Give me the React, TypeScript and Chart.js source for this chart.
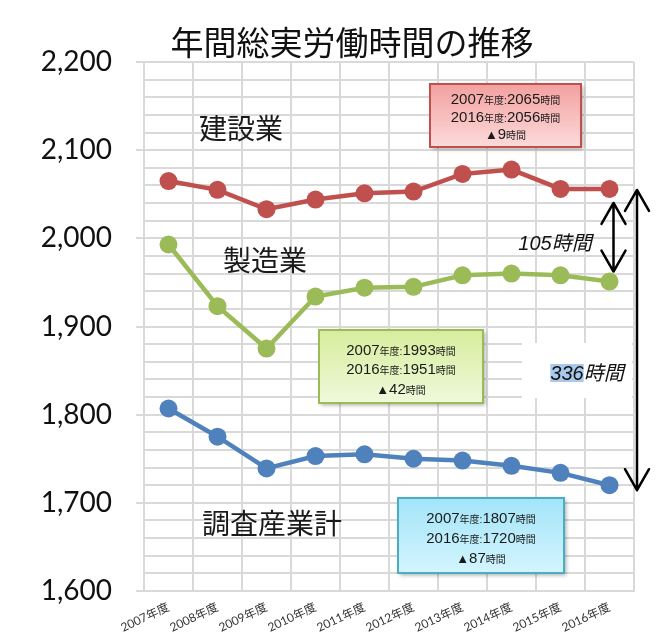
import React, { useEffect, useRef } from "react";
import { Chart, registerables } from "chart.js";

Chart.register(...registerables);

const chartTitle = "年間総実労働時間の推移";
const fiscalYears = ["2007年度", "2008年度", "2009年度", "2010年度", "2011年度", "2012年度", "2013年度", "2014年度", "2015年度", "2016年度"];
const seriesNames = ["建設業", "製造業", "調査産業計"];
const construction = [2065, 2055, 2033, 2044, 2051, 2053, 2073, 2078, 2056, 2056];
const manufacturing = [1993, 1923, 1875, 1934, 1944, 1945, 1958, 1960, 1958, 1951];
const allIndustries = [1807, 1775, 1739, 1753, 1755, 1750, 1748, 1742, 1734, 1720];
const yMin = 1600;
const yMax = 2200;
const yMinorStep = 20;
const yMajorStep = 100;
const hoursUnit = "時間";
const yearUnit = "年度";

const seriesColors = ["#C0504D", "#9BBB59", "#4F81BD"];

const NUM_FONT = '"Liberation Sans", "Noto Sans CJK JP", sans-serif';
const JP_FONT = '"Noto Sans CJK JP", sans-serif';

type Seg = { t: string; s: number };

function drawRich(ctx: CanvasRenderingContext2D, cx: number, baseY: number, segs: Seg[], color: string) {
  let total = 0;
  const widths = segs.map((g) => {
    ctx.font = `${g.s}px ${NUM_FONT}`;
    const w = ctx.measureText(g.t).width;
    total += w;
    return w;
  });
  let x = cx - total / 2;
  ctx.fillStyle = color;
  ctx.textAlign = "left";
  ctx.textBaseline = "alphabetic";
  segs.forEach((g, i) => {
    ctx.font = `${g.s}px ${NUM_FONT}`;
    ctx.fillText(g.t, x, baseY);
    x += widths[i];
  });
}

function drawBox(
  ctx: CanvasRenderingContext2D,
  x: number, y: number, w: number, h: number,
  top: string, bottom: string, border: string,
  values: number[], big: number, small: number, baselines: number[]
) {
  ctx.save();
  const g = ctx.createLinearGradient(0, y, 0, y + h);
  g.addColorStop(0, top);
  g.addColorStop(1, bottom);
  ctx.shadowColor = "rgba(0,0,0,0.35)";
  ctx.shadowBlur = 4;
  ctx.shadowOffsetX = 2;
  ctx.shadowOffsetY = 2;
  ctx.fillStyle = g;
  ctx.fillRect(x, y, w, h);
  ctx.shadowColor = "transparent";
  ctx.strokeStyle = border;
  ctx.lineWidth = 2;
  ctx.strokeRect(x, y, w, h);
  const cx = x + w / 2;
  const first = values[0];
  const last = values[values.length - 1];
  const y0 = fiscalYears[0].replace(yearUnit, "");
  const y1 = fiscalYears[fiscalYears.length - 1].replace(yearUnit, "");
  drawRich(ctx, cx, baselines[0], [
    { t: y0, s: big }, { t: yearUnit + ":", s: small }, { t: String(first), s: big }, { t: hoursUnit, s: small },
  ], "#1a1a1a");
  drawRich(ctx, cx, baselines[1], [
    { t: y1, s: big }, { t: yearUnit + ":", s: small }, { t: String(last), s: big }, { t: hoursUnit, s: small },
  ], "#1a1a1a");
  drawRich(ctx, cx, baselines[2], [
    { t: "▲", s: small + 3 }, { t: String(first - last), s: big }, { t: hoursUnit, s: small },
  ], "#1a1a1a");
  ctx.restore();
}

function drawDoubleArrow(ctx: CanvasRenderingContext2D, x: number, yTop: number, yBot: number) {
  ctx.save();
  ctx.strokeStyle = "#000";
  ctx.lineWidth = 2.5;
  ctx.lineCap = "round";
  ctx.lineJoin = "round";
  ctx.beginPath();
  ctx.moveTo(x, yTop);
  ctx.lineTo(x, yBot);
  ctx.moveTo(x - 12, yTop + 21);
  ctx.lineTo(x, yTop);
  ctx.lineTo(x + 12, yTop + 21);
  ctx.moveTo(x - 12, yBot - 21);
  ctx.lineTo(x, yBot);
  ctx.lineTo(x + 12, yBot - 21);
  ctx.stroke();
  ctx.restore();
}

const backPlugin = {
  id: "backPlugin",
  beforeDatasetsDraw(chart: any) {
    const ctx = chart.ctx as CanvasRenderingContext2D;
    ctx.save();
    ctx.fillStyle = "#ffffff";
    ctx.fillRect(522, 343, 110, 55);
    ctx.restore();
  },
};

const overlayPlugin = {
  id: "overlayPlugin",
  afterDatasetsDraw(chart: any) {
    const ctx = chart.ctx as CanvasRenderingContext2D;
    const xs = chart.scales.x;
    const ys = chart.scales.y;
    const area = chart.chartArea;
    ctx.save();

    // title
    ctx.font = `33px ${JP_FONT}`;
    ctx.fillStyle = "#111";
    ctx.textAlign = "center";
    ctx.textBaseline = "middle";
    ctx.fillText(chartTitle, 352, 42);

    // series labels
    ctx.font = `28px ${JP_FONT}`;
    ctx.fillStyle = "#1a1a1a";
    ctx.fillText(seriesNames[0], 241, 128);
    ctx.fillText(seriesNames[1], 265, 260);
    ctx.fillText(seriesNames[2], 272, 523);

    // boxes
    drawBox(ctx, 430, 84, 151, 63, "#f3a0a0", "#fcdada", "#C0504D", construction, 15, 10, [104, 122, 139]);
    drawBox(ctx, 319, 330, 164, 73, "#d6ed9c", "#f0f9dc", "#9BBB59", manufacturing, 15, 10, [355, 374, 394]);
    drawBox(ctx, 398, 498, 166, 75, "#a3e4f8", "#d3f5fe", "#4BACC6", allIndustries, 15, 10, [523, 543, 563]);

    // arrows
    const last = fiscalYears.length - 1;
    const topC = construction[last];
    const midM = manufacturing[last];
    const botA = allIndustries[last];
    const xSmall = xs.getPixelForValue(last) + 4;
    drawDoubleArrow(ctx, xSmall, ys.getPixelForValue(topC) + 14, ys.getPixelForValue(midM) - 10);
    const xBig = area.right + 3;
    drawDoubleArrow(ctx, xBig, ys.getPixelForValue(topC) + 1, ys.getPixelForValue(botA) + 5);

    // 105時間
    const d1 = topC - midM;
    ctx.textBaseline = "alphabetic";
    ctx.textAlign = "left";
    ctx.font = `italic 20px ${NUM_FONT}`;
    const t1 = String(d1) + hoursUnit;
    const w1 = ctx.measureText(t1).width;
    ctx.fillStyle = "#111";
    ctx.fillText(t1, 555 - w1 / 2, 250);

    // 336時間
    const d2 = topC - botA;
    const num2 = String(d2);
    const wn = ctx.measureText(num2).width;
    const w2 = ctx.measureText(num2 + hoursUnit).width;
    const x2 = 587 - w2 / 2;
    ctx.fillStyle = "#a9c9ea";
    ctx.fillRect(x2, 364, wn, 18);
    ctx.fillStyle = "#111";
    ctx.fillText(num2 + hoursUnit, x2, 380);

    ctx.restore();
  },
};

export default function App() {
  const ref = useRef<HTMLCanvasElement | null>(null);

  useEffect(() => {
    if (!ref.current) return;
    const mk = (i: number, data: number[]) => ({
      label: seriesNames[i],
      data,
      borderColor: seriesColors[i],
      backgroundColor: seriesColors[i],
      pointBackgroundColor: seriesColors[i],
      pointBorderWidth: 0,
      pointRadius: 9,
      borderWidth: 4.5,
      tension: 0,
    });
    const chart = new Chart(ref.current, {
      type: "line",
      data: {
        labels: fiscalYears,
        datasets: [mk(0, construction), mk(1, manufacturing), mk(2, allIndustries)],
      },
      options: {
        animation: false,
        responsive: false,
        events: [],
        layout: { padding: { left: 0, top: 62, right: 32, bottom: 0 } },
        plugins: { legend: { display: false }, tooltip: { enabled: false }, title: { display: false } },
        scales: {
          x: {
            offset: true,
            grid: { offset: true, color: "#d9d9d9", lineWidth: 2, drawTicks: false },
            border: { color: "#d9d9d9", width: 2 },
            ticks: {
              autoSkip: false,
              maxRotation: 25,
              minRotation: 25,
              padding: 9,
              color: "#333",
              font: { family: 'Lato, "Noto Sans CJK JP", sans-serif', size: 12 },
            },
            afterFit: (s: any) => { s.height = 49; },
          },
          y: {
            min: yMin,
            max: yMax,
            ticks: {
              stepSize: yMinorStep,
              maxTicksLimit: 40,
              autoSkip: false,
              padding: 24,
              color: "#111",
              font: { family: 'Lato, "Open Sans", sans-serif', size: 28 },
              callback: (v: any) => (Number(v) % yMajorStep === 0 ? Number(v).toLocaleString("en-US") : ""),
            },
            grid: {
              color: "#d9d9d9",
              lineWidth: 2,
              tickLength: 8,
              tickColor: (c: any) => (c.tick && c.tick.value % yMajorStep === 0 ? "#d9d9d9" : "rgba(0,0,0,0)"),
            },
            border: { color: "#d9d9d9", width: 2 },
            afterFit: (s: any) => { s.width = 144; },
          },
        },
      },
      plugins: [backPlugin, overlayPlugin],
    });
    return () => chart.destroy();
  }, []);

  return (
    <div style={{ position: "fixed", left: 0, top: 0, width: 666, height: 640, background: "#fff" }}>
      <canvas ref={ref} width={666} height={640} style={{ display: "block" }} />
    </div>
  );
}
